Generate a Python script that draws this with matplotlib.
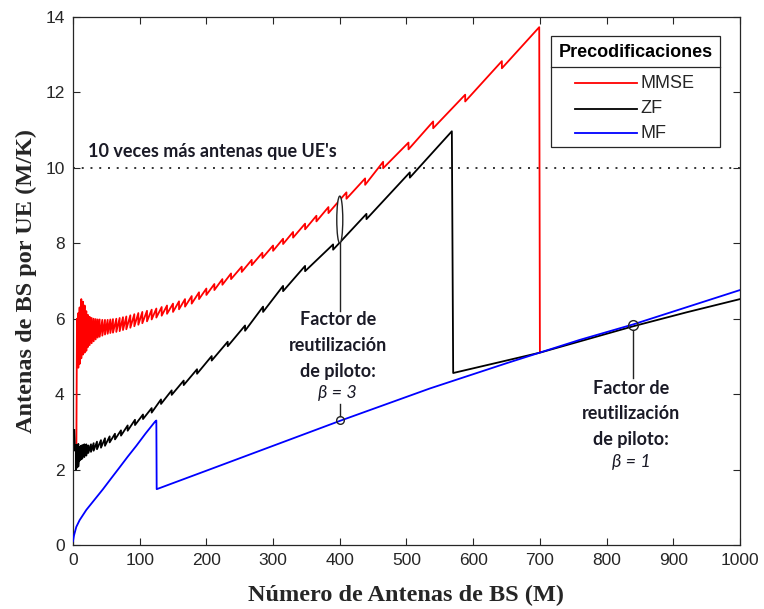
import matplotlib
matplotlib.use("Agg")
import matplotlib.pyplot as plt
from matplotlib.patches import Ellipse, Rectangle
from matplotlib.lines import Line2D

# ---------------- data ----------------
# MMSE (red): start, sawtooth corners (position, value before drop, value after drop), end
mmse_head_m = [5]
mmse_head_v = [2.1]
mmse_tooth_m = [6, 8, 10, 12.5, 15, 17.5, 20, 22.5, 25, 28, 31, 34, 37, 40, 44, 48,
                52, 56, 60, 65, 70, 75, 80, 86, 92, 98, 104, 111, 118, 125, 133, 141,
                150, 159, 168, 178, 189, 200, 212, 224, 237, 253, 268, 284, 300, 315,
                330, 348, 365, 383, 410, 438, 465, 503, 540, 588, 643]
mmse_tooth_hi = [6.0, 6.15, 6.3, 6.52, 6.45, 6.35, 6.2, 6.1, 6.05, 6.02, 6.0, 5.99,
                 5.98, 5.98, 5.97, 5.97, 5.97, 5.98, 5.99, 6.0, 6.02, 6.04, 6.06, 6.09,
                 6.12, 6.15, 6.18, 6.21, 6.24, 6.27, 6.31, 6.35, 6.4, 6.46, 6.52, 6.6,
                 6.7, 6.8, 6.92, 7.05, 7.2, 7.38, 7.56, 7.75, 7.94, 8.12, 8.3, 8.52,
                 8.73, 8.96, 9.35, 9.72, 10.16, 10.67, 11.23, 11.94, 12.83]
mmse_tooth_lo = [4.8, 4.7, 4.8, 4.95, 5.05, 5.1, 5.15, 5.25, 5.3, 5.35, 5.4, 5.45,
                 5.5, 5.52, 5.55, 5.58, 5.6, 5.62, 5.63, 5.65, 5.67, 5.7, 5.72, 5.76,
                 5.8, 5.84, 5.88, 5.93, 5.98, 6.03, 6.08, 6.13, 6.18, 6.25, 6.32, 6.4,
                 6.52, 6.63, 6.76, 6.9, 7.05, 7.24, 7.42, 7.61, 7.8, 7.98, 8.15, 8.37,
                 8.58, 8.8, 9.18, 9.55, 9.99, 10.49, 11.05, 11.76, 12.64]
mmse_tail_m = [699, 700]
mmse_tail_v = [13.73, 5.13]

# ZF (black)
zf_head_m = [2, 3]
zf_head_v = [3.05, 2.5]
zf_tooth_m = [4.5, 6, 8, 10, 12, 14, 17, 20, 23, 27, 31, 36, 42, 48, 55, 63, 72, 82,
              93, 105, 118, 132, 148, 166, 186, 208, 232, 258, 285, 315, 348, 390,
              440, 505]
zf_tooth_hi = [2.65, 2.65, 2.68, 2.6, 2.63, 2.65, 2.67, 2.67, 2.64, 2.67, 2.7, 2.74,
               2.78, 2.83, 2.88, 2.95, 3.04, 3.17, 3.32, 3.46, 3.63, 3.86, 4.1, 4.36,
               4.66, 5.01, 5.39, 5.82, 6.32, 6.87, 7.4, 7.97, 8.78, 9.88]
zf_tooth_lo = [2.0, 2.05, 2.08, 2.24, 2.27, 2.29, 2.33, 2.37, 2.44, 2.47, 2.5, 2.54,
               2.58, 2.63, 2.72, 2.8, 2.9, 3.03, 3.18, 3.34, 3.51, 3.74, 3.98, 4.24,
               4.54, 4.89, 5.27, 5.68, 6.18, 6.73, 7.26, 7.83, 8.64, 9.74]
zf_tail_m = [568, 570, 640, 700, 770, 840, 920, 1000]
zf_tail_v = [10.97, 4.56, 4.85, 5.1, 5.45, 5.8, 6.17, 6.52]

# MF (blue)
mf_m = [0, 1.5, 5, 10, 20, 30, 45, 57, 70, 82, 95, 109, 123, 125,
        125.5, 200, 300, 400, 535, 650, 760, 840, 1000]
mf_v = [0.1, 0.25, 0.48, 0.66, 0.93, 1.15, 1.48, 1.76, 2.06, 2.34, 2.63, 2.96, 3.27, 3.3,
        1.48, 1.97, 2.63, 3.29, 4.15, 4.82, 5.44, 5.85, 6.76]

series_names = ["MMSE", "ZF", "MF"]
series_colors = ["#ff0000", "#000000", "#0000ff"]

ratio_ref = 10                 # 10 antennas per UE
ratio_text = "10 veces más antenas que UE's"

beta3_m, beta3_top, beta3_bottom, beta3_point = 400, 9.25, 8.0, 3.32
beta1_m, beta1_point = 840, 5.83
annot_lines = ["Factor de", "reutilización", "de piloto:"]


def sawtooth(head_m, head_v, tooth_m, tooth_hi, tooth_lo, tail_m, tail_v):
    xs, ys = list(head_m), list(head_v)
    for m, hi, lo in zip(tooth_m, tooth_hi, tooth_lo):
        xs += [m, m]
        ys += [hi, lo]
    xs += tail_m
    ys += tail_v
    return xs, ys


mmse_x, mmse_y = sawtooth(mmse_head_m, mmse_head_v, mmse_tooth_m, mmse_tooth_hi,
                          mmse_tooth_lo, mmse_tail_m, mmse_tail_v)
zf_x, zf_y = sawtooth(zf_head_m, zf_head_v, zf_tooth_m, zf_tooth_hi,
                      zf_tooth_lo, zf_tail_m, zf_tail_v)

# ---------------- figure ----------------
fig = plt.figure(figsize=(7.64, 6.09), dpi=100)
ax = fig.add_axes([0.0955, 0.1051, 0.8731, 0.867])

lw = 1.3
ax.plot(mmse_x, mmse_y, color=series_colors[0], lw=lw, zorder=3)
ax.plot(zf_x, zf_y, color=series_colors[1], lw=lw, zorder=4)
ax.plot(mf_m, mf_v, color=series_colors[2], lw=lw, zorder=5)

ax.axhline(ratio_ref, color="#333333", lw=1.4, ls=(0, (1, 3.5)), zorder=2)

ax.set_xlim(0, 1000)
ax.set_ylim(0, 14)
ax.set_xticks(range(0, 1001, 100))
ax.set_yticks(range(0, 15, 2))

tick_font = dict(family="Liberation Sans", size=12.5)
for lab in ax.get_xticklabels() + ax.get_yticklabels():
    lab.set_fontfamily(tick_font["family"])
    lab.set_fontsize(tick_font["size"])
    lab.set_color("#262626")
ax.tick_params(direction="in", length=5, width=0.8, color="#262626",
               top=True, right=True, pad=6)
for sp in ax.spines.values():
    sp.set_color("#262626")
    sp.set_linewidth(0.9)

label_font = dict(family="Liberation Serif", weight="bold", size=17.5, color="#262626")
ax.set_xlabel("Número de Antenas de BS (M)", labelpad=12, **label_font)
ax.set_ylabel("Antenas de BS por UE (M/K)", labelpad=6, **label_font)

# ---------------- annotations ----------------
ann_color = "#1a1a26"
ann_font = dict(family="Lato", weight="bold", size=13, color=ann_color)
ann_beta = dict(family="Lato", style="italic", size=13, color=ann_color)

ax.text(22, 10.28, ratio_text, ha="left", va="baseline", zorder=6, **ann_font)

# beta = 3 callout
ax.add_patch(Ellipse((beta3_m, (beta3_top + beta3_bottom) / 2), 9,
                     beta3_top - beta3_bottom, facecolor="white", edgecolor="#222222",
                     lw=1.0, zorder=6))
ax.plot([beta3_m, beta3_m], [beta3_bottom, 6.2], color="#222222", lw=1.0, zorder=6)
for i, t in enumerate(annot_lines):
    ax.text(beta3_m - 3, 5.97 - i * 0.69, t, ha="center", va="center", zorder=7, **ann_font)
ax.text(beta3_m - 3, 4.02, "β = 3", ha="center", va="center", zorder=7, **ann_beta)
ax.plot([beta3_m, beta3_m], [3.75, beta3_point + 0.1], color="#222222", lw=1.0, zorder=6)
ax.plot([beta3_m], [beta3_point], marker="o", ms=5.5, mfc="none", mec="#222222",
        mew=1.0, zorder=7)

# beta = 1 callout
ax.plot([beta1_m, beta1_m], [beta1_point - 0.13, 4.43], color="#222222", lw=1.0, zorder=6)
for i, t in enumerate(annot_lines):
    ax.text(beta1_m - 3, 4.14 - i * 0.665, t, ha="center", va="center", zorder=7, **ann_font)
ax.text(beta1_m - 3, 2.2, "β = 1", ha="center", va="center", zorder=7, **ann_beta)
ax.plot([beta1_m], [beta1_point], marker="o", ms=7, mfc="none", mec="#222222",
        mew=1.0, zorder=7)

# ---------------- legend with title separator ----------------
tr = ax.transAxes
box_l, box_r, box_t, box_b = 0.7166, 0.970, 0.964, 0.754
sep_y = 0.906
ax.add_patch(Rectangle((box_l, box_b), box_r - box_l, box_t - box_b, transform=tr,
                       facecolor="white", edgecolor="#262626", lw=0.9, zorder=8))
ax.add_line(Line2D([box_l, box_r], [sep_y, sep_y], transform=tr, color="#262626",
                   lw=0.9, zorder=9))
ax.text((box_l + box_r) / 2, 0.9335, "Precodificaciones", transform=tr, ha="center",
        va="center", family="Liberation Sans", weight="bold", size=13, color="black",
        zorder=9)
entry_y = [0.8744, 0.8258, 0.7797]
for name, col, yy in zip(series_names, series_colors, entry_y):
    ax.add_line(Line2D([0.7526, 0.8456], [yy, yy], transform=tr, color=col, lw=lw,
                       zorder=9))
    ax.text(0.851, yy, name, transform=tr, ha="left", va="center",
            family="Liberation Sans", size=13, color="#262626", zorder=9)

fig.savefig("out.png", dpi=100)
